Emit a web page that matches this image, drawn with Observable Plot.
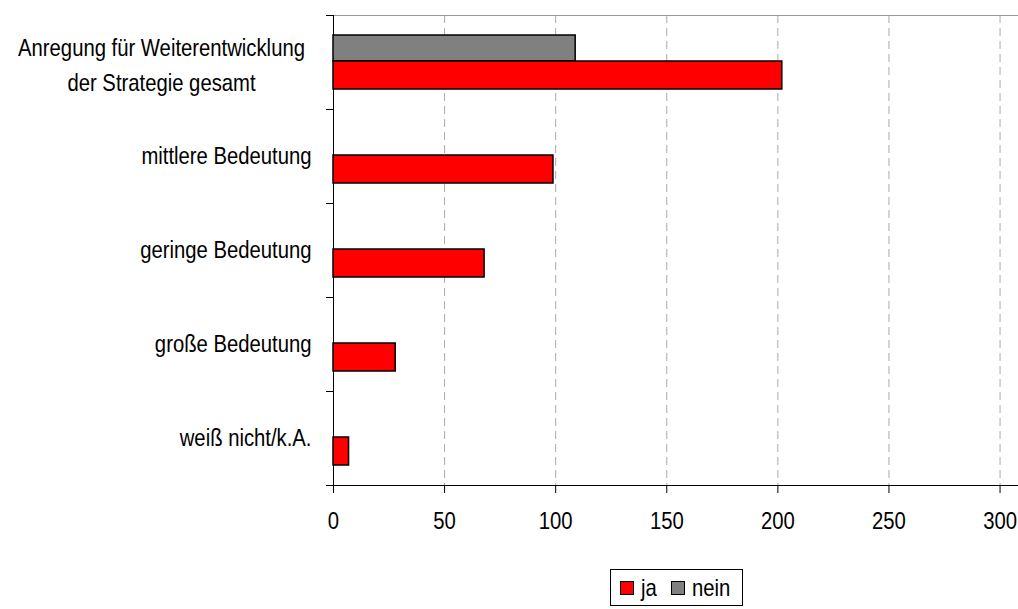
<!DOCTYPE html>
<html><head><meta charset="utf-8">
<script src="https://cdn.jsdelivr.net/npm/d3@7"></script>
<script src="https://cdn.jsdelivr.net/npm/@observablehq/plot@0.6"></script>
<style>
body{margin:0;background:#fff;font-family:'Liberation Sans',Arial,sans-serif;}
#chart{position:relative;width:1018px;height:609px;background:#fff;}
#chart svg{display:block;}
#legend{position:absolute;left:610px;top:569px;width:133px;height:37px;border:1px solid #000;box-sizing:border-box;display:flex;align-items:center;font-size:24px;color:#000;padding-left:9px;}
.sw{width:14px;height:14px;border:1.5px solid #000;box-sizing:border-box;display:inline-block;flex:none;}
.lt{display:inline-block;transform:scaleX(0.845);transform-origin:left center;line-height:1;}
</style></head>
<body>
<div id="chart"></div>
<script>
const categories = ["Anregung für Weiterentwicklung\nder Strategie gesamt", "mittlere Bedeutung", "geringe Bedeutung", "große Bedeutung", "weiß nicht/k.A."];
const ja = [202, 99, 68, 28, 7];
const nein = [109, 0, 0, 0, 0];
const xTicks = [0, 50, 100, 150, 200, 250, 300];
const seriesNames = ["ja", "nein"];
const seriesColors = ["#ff0000", "#808080"];

const rows = categories.map((c, i) => ({category: c, ja: ja[i], nein: nein[i]}));
const xMax = 308.3;
const fontFamily = "'Liberation Sans',Arial,sans-serif";
const squeeze = 0.845;

const chart = Plot.plot({
  width: 1018, height: 560,
  marginLeft: 333, marginRight: 0, marginTop: 15, marginBottom: 75,
  style: {fontFamily, fontSize: "24px", color: "black", background: "white", overflow: "visible"},
  x: {domain: [0, xMax]},
  y: {domain: categories, padding: 0},
  marks: [
    Plot.ruleX(xTicks.filter(t => t > 0), {stroke: "#aaa", strokeDasharray: "8,5"}),
    Plot.ruleY(categories.slice(0, 1), {y: d => d, dy: -47, x1: 0, x2: xMax, stroke: "#999"}),
    Plot.ruleY(categories, {y: d => d, dy: -47, x1: -3.15, x2: 0, stroke: "black"}),
    Plot.ruleY(categories.slice(-1), {y: d => d, dy: 47, x1: -3.15, x2: xMax, stroke: "black"}),
    Plot.ruleX([0], {stroke: "black"}),
    Plot.barX(rows, {y: "category", x: "nein", fill: seriesColors[1], stroke: "black", strokeWidth: 1.5, insetTop: 20, insetBottom: 48}),
    Plot.barX(rows, {y: "category", x: "ja", fill: seriesColors[0], stroke: "black", strokeWidth: 1.5, insetTop: 46, insetBottom: 20}),
    Plot.axisX(xTicks, {tickSize: 8, tickPadding: 18, fontSize: 24, label: null, stroke: "black"}),
    Plot.axisY(categories.slice(1), {tickSize: 0, tickPadding: 22, fontSize: 24, label: null}),
    Plot.axisY(categories.slice(0, 1), {tickSize: 0, tickPadding: 172, fontSize: 24, textAnchor: "middle", lineHeight: 1.46, label: null})
  ]
});
// condense the label glyphs horizontally (the reference uses a narrow face)
chart.querySelectorAll("text").forEach(t => {
  const tr = t.getAttribute("transform");
  if (tr) {
    t.setAttribute("transform", tr + ` scale(${squeeze},1)`);
  } else {
    const x = +(t.getAttribute("x") || 0), y = +(t.getAttribute("y") || 0);
    t.removeAttribute("x"); t.removeAttribute("y");
    t.setAttribute("transform", `translate(${x},${y}) scale(${squeeze},1)`);
  }
});
const root = document.getElementById("chart");
root.appendChild(chart);

const legend = document.createElement("div");
legend.id = "legend";
seriesNames.forEach((name, i) => {
  const sw = document.createElement("span");
  sw.className = "sw";
  sw.style.background = seriesColors[i];
  sw.style.marginLeft = i === 0 ? "0px" : "14px";
  sw.style.marginRight = "7px";
  legend.appendChild(sw);
  const t = document.createElement("span");
  t.className = "lt";
  t.textContent = name;
  t.style.width = i === 0 ? "16px" : "40px";
  legend.appendChild(t);
});
root.appendChild(legend);
</script>
</body></html>
